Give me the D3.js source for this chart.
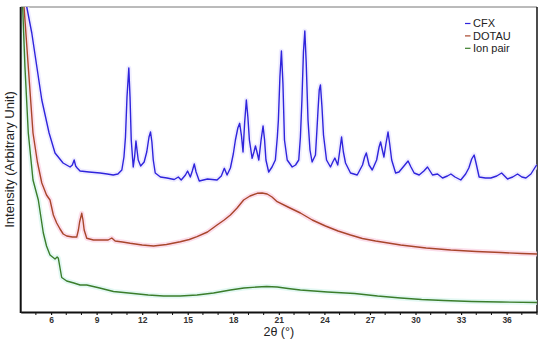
<!DOCTYPE html>
<html>
<head>
<meta charset="utf-8">
<script src="https://cdn.jsdelivr.net/npm/d3@7"></script>
<style>
  body { margin: 0; background: #fff; }
  svg { display: block; font-family: "Liberation Sans", Arial, sans-serif; }
</style>
</head>
<body>
<div id="chart"></div>
<script>
/**
 * CONSTANTS AND GLOBALS
 * */
const width = 550,
  height = 344,
  margin = { top: 7, bottom: 32, left: 20.7, right: 13 };

// x ticks (degrees 2θ)
const majorTicks = [6, 9, 12, 15, 18, 21, 24, 27, 30, 33, 36];
const minorTicks = d3.range(5, 39, 1);

const seriesNames = ["CFX", "DOTAU", "Ion pair"];
const seriesColors = ["#2f24dc", "#a8462b", "#3b7d2b"];
const haloColors = ["#ebe8ff", "#fbd6e6", "#dcf6f0"];

// CFX pattern: [2θ, intensity]
const cfx = [
  [4.30, 360], [4.40, 305], [4.73, 279], [5.39, 212], [5.87, 179], [6.26, 159],
  [6.79, 149], [7.25, 145], [7.40, 147], [7.52, 152], [7.62, 146], [7.72, 144],
  [7.91, 141], [8.5, 140], [9.23, 139], [9.7, 138], [10.09, 137], [10.4, 138],
  [10.66, 142], [10.80, 155], [10.90, 175], [11.00, 215], [11.12, 244], [11.20, 215],
  [11.28, 172], [11.41, 145], [11.50, 155], [11.59, 171], [11.66, 162], [11.74, 152],
  [11.90, 146], [12.13, 150], [12.30, 160], [12.45, 175], [12.55, 180], [12.64, 170],
  [12.73, 152], [12.86, 139], [13.2, 135], [13.63, 134], [14.11, 132.5], [14.38, 135],
  [14.57, 132], [14.85, 137], [14.99, 141], [15.17, 135], [15.30, 141], [15.43, 148],
  [15.55, 140], [15.76, 131], [16.3, 133], [16.93, 132], [17.21, 136], [17.41, 143.7],
  [17.59, 137], [17.81, 144], [18.00, 158], [18.14, 172], [18.30, 184], [18.42, 188.7],
  [18.54, 176], [18.64, 160], [18.75, 190], [18.86, 212], [18.96, 195], [19.06, 172],
  [19.24, 153.7], [19.36, 160], [19.46, 166], [19.56, 160], [19.68, 152], [19.83, 172],
  [19.96, 186], [20.06, 172], [20.15, 152], [20.33, 140], [20.55, 145], [20.77, 152],
  [20.90, 175], [20.97, 192], [21.07, 235], [21.17, 261], [21.27, 228], [21.37, 172],
  [21.55, 152], [21.88, 145], [22.10, 147], [22.31, 152], [22.42, 175], [22.52, 212],
  [22.62, 260], [22.71, 281], [22.80, 250], [22.92, 192], [23.05, 162], [23.19, 150],
  [23.41, 157], [23.50, 180], [23.58, 202], [23.66, 222], [23.74, 227], [23.84, 205],
  [23.94, 177], [24.14, 152], [24.40, 145], [24.55, 150], [24.69, 154], [24.88, 147],
  [25.00, 160], [25.13, 175], [25.25, 160], [25.39, 149], [25.72, 139], [26.16, 137],
  [26.51, 147], [26.65, 155], [26.76, 159], [26.94, 147], [27.15, 142], [27.44, 152],
  [27.60, 165], [27.70, 170], [27.80, 163], [27.92, 155], [28.05, 168], [28.19, 180],
  [28.30, 168], [28.43, 152], [28.69, 139], [28.91, 140], [29.24, 146], [29.51, 151],
  [29.70, 145], [29.91, 139], [30.24, 137], [30.55, 141], [30.79, 145], [31.12, 137],
  [31.45, 138], [31.78, 134], [32.10, 136], [32.33, 138], [32.60, 135], [32.98, 132],
  [33.30, 138], [33.51, 144], [33.70, 153], [33.86, 157], [34.00, 148], [34.19, 135],
  [34.60, 134], [34.96, 134], [35.35, 136], [35.67, 139], [36.06, 133], [36.40, 135],
  [36.72, 138], [37.00, 135], [37.27, 134], [37.60, 138], [37.93, 146], [38.0, 147]
];

// DOTAU pattern
const dotau = [
  [4.15, 360], [4.22, 305], [4.50, 245], [4.81, 179], [5.10, 150], [5.39, 129],
  [5.70, 117], [5.93, 112], [6.15, 97], [6.37, 89], [6.59, 83], [6.80, 78],
  [7.03, 76], [7.40, 75], [7.69, 75], [7.80, 82], [7.88, 90], [8.02, 98.7],
  [8.10, 92], [8.18, 82], [8.35, 73.7], [8.79, 72], [9.30, 72], [9.76, 72],
  [10.00, 74], [10.22, 71], [10.70, 70], [11.21, 68.7], [12.00, 67], [12.75, 66],
  [13.60, 67.5], [14.51, 70.3], [15.10, 72.5], [15.61, 75.3], [16.30, 80], [16.93, 87],
  [17.40, 92], [17.81, 97], [18.25, 104], [18.68, 112], [19.10, 116], [19.57, 118.7],
  [19.90, 119], [20.23, 118], [20.55, 115], [20.89, 110.3], [21.60, 105], [22.42, 99],
  [23.20, 92], [24.07, 86], [24.90, 81], [25.72, 77], [26.50, 73.5], [27.37, 71],
  [28.20, 69], [29.02, 67], [30.70, 64], [32.32, 62], [34.00, 60.5], [35.62, 59.5],
  [37.00, 58.5], [38.0, 58]
];

// Ion pair pattern
const ionPair = [
  [4.08, 360], [4.13, 305], [4.28, 245], [4.50, 179], [4.81, 132], [5.16, 112],
  [5.49, 79], [5.70, 66], [5.93, 57], [6.26, 53], [6.40, 55], [6.48, 53.7],
  [6.59, 44], [6.70, 34.5], [7.03, 31], [7.50, 29], [7.91, 27], [8.35, 27],
  [9.20, 24], [10.11, 20.5], [11.43, 18.5], [12.40, 17], [13.41, 16], [14.50, 16],
  [15.61, 17], [16.70, 19], [17.81, 22], [18.70, 24], [19.57, 25], [20.20, 25.5],
  [20.89, 25], [21.60, 23.5], [22.42, 22], [24.20, 20], [25.99, 18.5], [27.50, 16],
  [29.02, 14], [30.40, 12.5], [31.86, 11.5], [33.70, 10.5], [35.62, 10], [38.0, 9.5]
];

const allSeries = [cfx, dotau, ionPair];

/**
 * SCALES
 * */
const xScale = d3.scaleLinear()
  .domain([4, 38])
  .range([margin.left, width - margin.right]);

const yScale = d3.scaleLinear()
  .domain([0, 305])
  .range([height - margin.bottom, margin.top]);

const svg = d3.select("#chart")
  .append("svg")
  .attr("width", width)
  .attr("height", height);

svg.append("defs")
  .append("clipPath")
  .attr("id", "plot-clip")
  .append("rect")
  .attr("x", margin.left)
  .attr("y", margin.top)
  .attr("width", width - margin.right - margin.left)
  .attr("height", height - margin.bottom - margin.top);

// frame: thin grey top, black right
svg.append("line")
  .attr("x1", margin.left).attr("x2", width - margin.right)
  .attr("y1", margin.top).attr("y2", margin.top)
  .attr("stroke", "#777").attr("stroke-width", 1);

svg.append("line")
  .attr("x1", width - margin.right).attr("x2", width - margin.right)
  .attr("y1", margin.top).attr("y2", height - margin.bottom)
  .attr("stroke", "#111").attr("stroke-width", 1.5);

/**
 * LINES
 * */
const line = d3.line()
  .x(d => xScale(d[0]))
  .y(d => yScale(d[1]));

const plot = svg.append("g").attr("clip-path", "url(#plot-clip)");

// soft halo beneath each trace (as in the scanned figure)
plot.selectAll(".halo")
  .data(allSeries)
  .join("path")
  .attr("class", "halo")
  .attr("fill", "none")
  .attr("stroke", (d, i) => haloColors[i])
  .attr("stroke-width", 5)
  .attr("stroke-linejoin", "round")
  .attr("opacity", 0.8)
  .attr("d", line);

plot.selectAll(".trace")
  .data(allSeries)
  .join("path")
  .attr("class", "trace")
  .attr("fill", "none")
  .attr("stroke", (d, i) => seriesColors[i])
  .attr("stroke-width", 1.4)
  .attr("stroke-linejoin", "round")
  .attr("d", line);

/**
 * AXES
 * */
const xAxis = d3.axisBottom(xScale)
  .tickValues(majorTicks)
  .tickSize(3)
  .tickSizeOuter(0)
  .tickPadding(1.5);

const xg = svg.append("g")
  .attr("class", "axis x-axis")
  .attr("transform", `translate(0,${height - margin.bottom})`)
  .call(xAxis);

xg.selectAll(".minor")
  .data(minorTicks.filter(t => !majorTicks.includes(t)))
  .join("line")
  .attr("class", "minor")
  .attr("x1", d => xScale(d)).attr("x2", d => xScale(d))
  .attr("y1", 0).attr("y2", 3)
  .attr("stroke", "#111");

xg.select(".domain").attr("stroke", "#111").attr("stroke-width", 2);
xg.selectAll(".tick line").attr("stroke", "#111").attr("stroke-width", 1.2);
xg.selectAll(".tick text")
  .attr("font-size", 8.5)
  .attr("font-weight", "bold")
  .attr("fill", "#333");

// y axis: plain line, no ticks
svg.append("line")
  .attr("x1", margin.left).attr("x2", margin.left)
  .attr("y1", margin.top).attr("y2", height - margin.bottom + 1)
  .attr("stroke", "#111").attr("stroke-width", 2);

svg.append("text")
  .attr("x", xScale(21))
  .attr("y", 336)
  .attr("text-anchor", "middle")
  .attr("font-size", 12.5)
  .attr("fill", "#222")
  .text("2θ (°)");

svg.append("text")
  .attr("transform", `translate(14,${(margin.top + height - margin.bottom) / 2}) rotate(-90)`)
  .attr("text-anchor", "middle")
  .attr("font-size", 13)
  .attr("fill", "#222")
  .text("Intensity (Arbitrary Unit)");

/**
 * LEGEND
 * */
const legend = svg.append("g")
  .attr("transform", "translate(465,23.5)");

const item = legend.selectAll("g")
  .data(seriesNames)
  .join("g")
  .attr("transform", (d, i) => `translate(0,${i * 12.4})`);

item.append("line")
  .attr("x1", 0).attr("x2", 5.5)
  .attr("stroke", (d, i) => seriesColors[i])
  .attr("stroke-width", 1.2);

item.append("text")
  .attr("x", 8)
  .attr("dy", "0.36em")
  .attr("font-size", 11)
  .attr("fill", "#222")
  .text(d => d);
</script>
</body>
</html>
